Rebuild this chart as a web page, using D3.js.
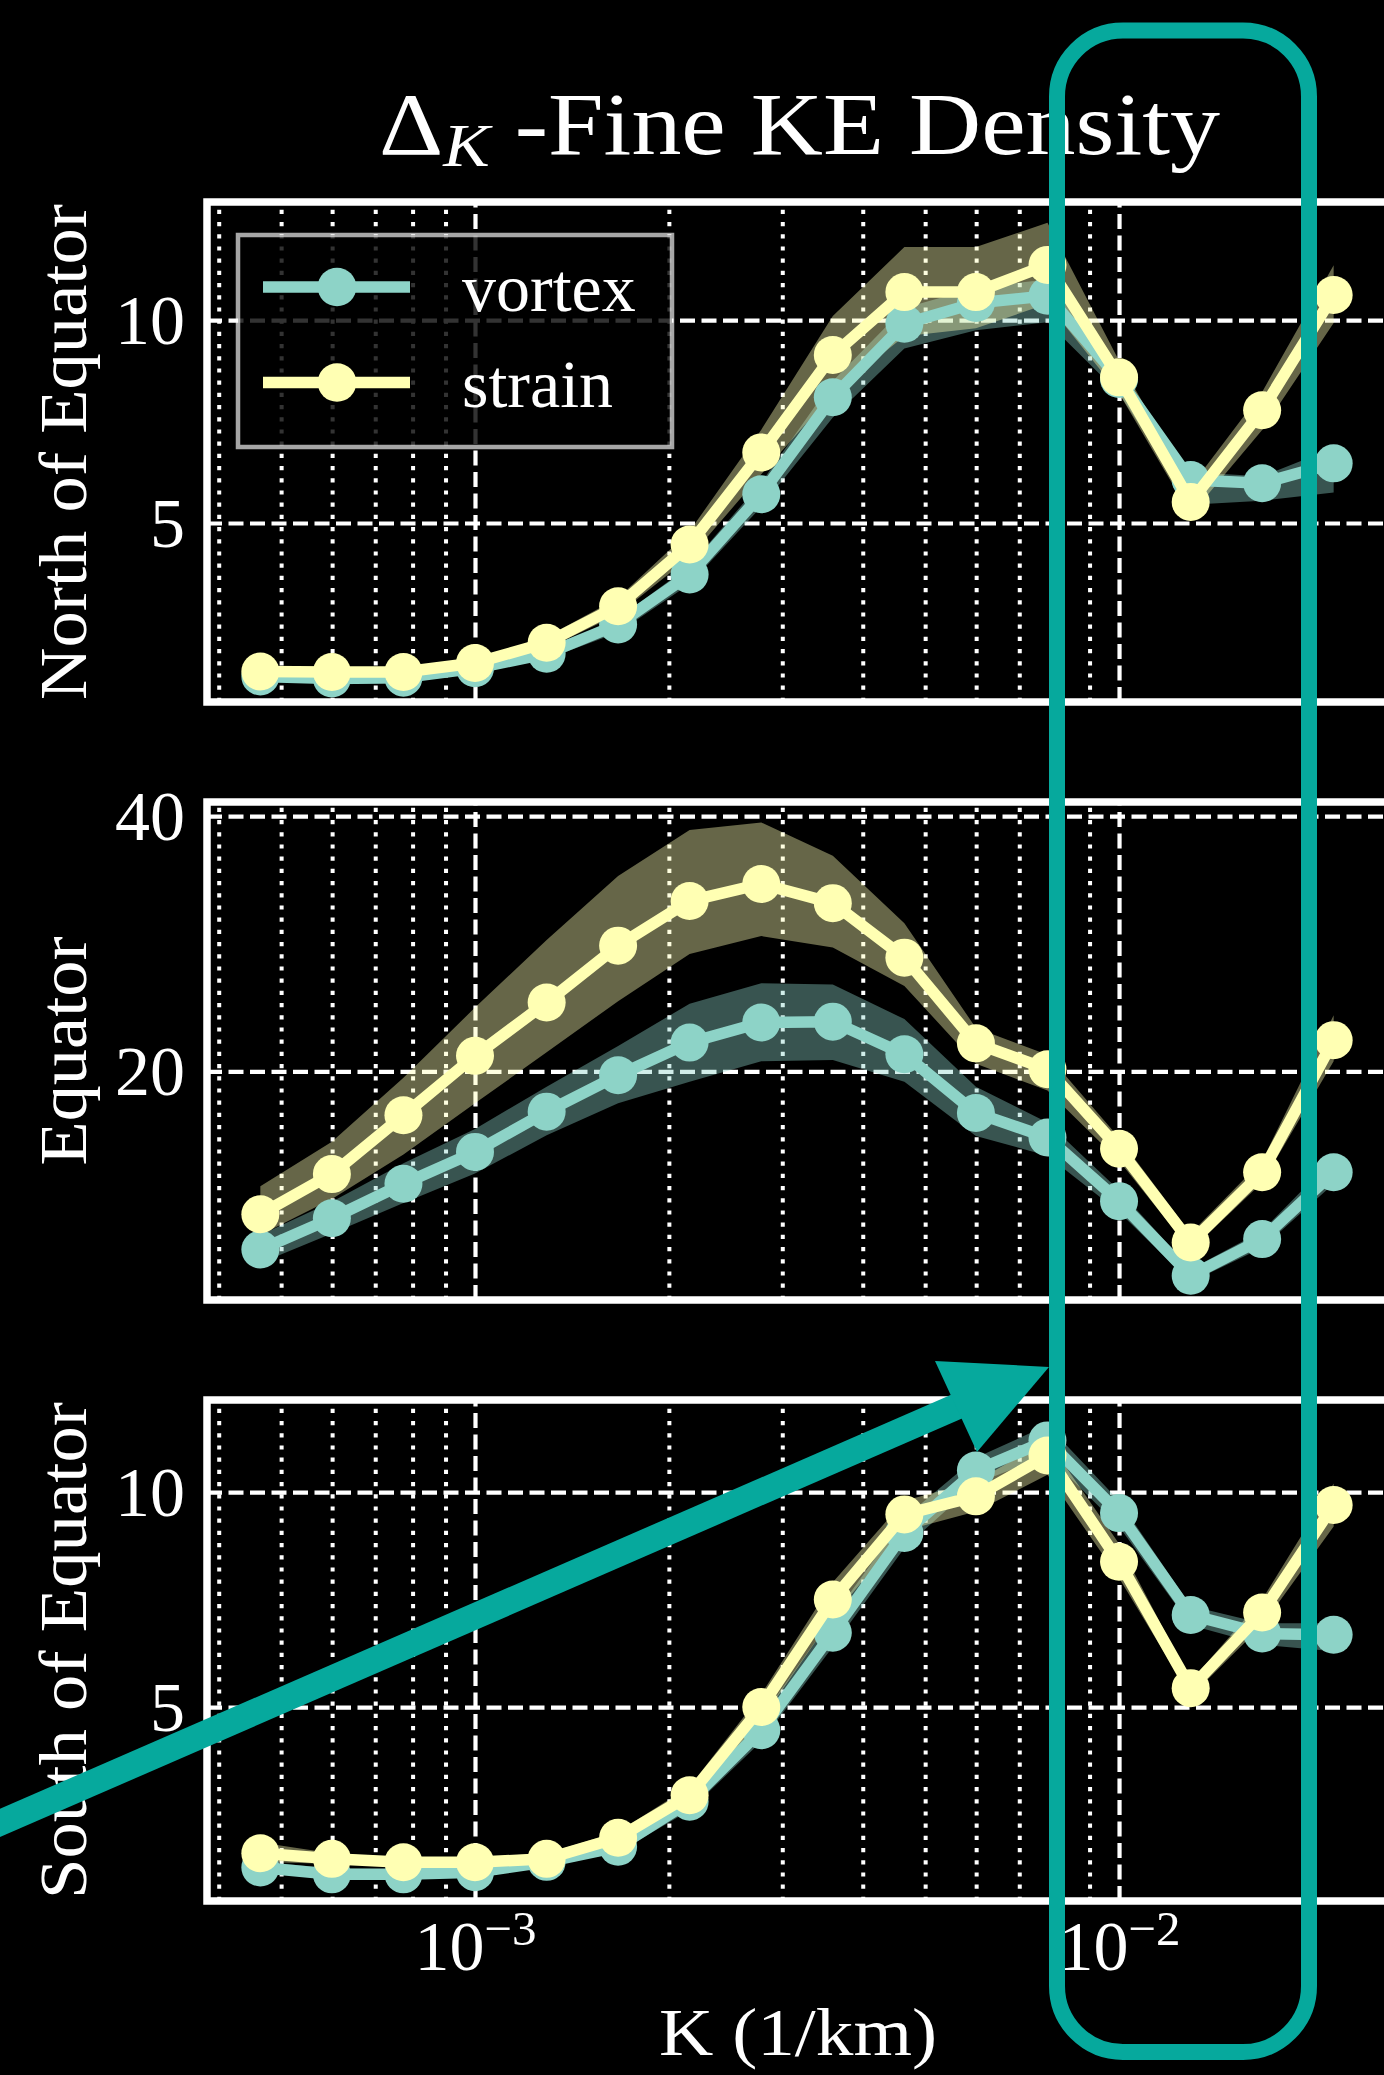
<!DOCTYPE html>
<html><head><meta charset="utf-8">
<script src="https://cdn.jsdelivr.net/npm/d3@7"></script>
<style>html,body{margin:0;padding:0;background:#000;}svg{display:block;}text{white-space:pre;}</style>
</head><body>
<svg id="c" width="1384" height="2075"></svg>
<script>
// ---------------- data ----------------
const K = [4.642e-4, 5.995e-4, 7.743e-4, 1.000e-3, 1.292e-3, 1.668e-3, 2.154e-3, 2.783e-3,
           3.594e-3, 4.642e-3, 5.995e-3, 7.743e-3, 1.000e-2, 1.292e-2, 1.668e-2, 2.154e-2];
const seriesNames = ["vortex", "strain"];
const panelLabels = ["North of Equator", "Equator", "South of Equator"];

const northVortex   = [1.22, 1.17, 1.19, 1.42, 1.78, 2.50, 3.73, 5.71, 8.10, 9.91, 10.42, 10.60, 8.55, 6.06, 5.98, 6.47];
const northVortexLo = [1.12, 1.08, 1.10, 1.32, 1.65, 2.30, 3.50, 5.40, 7.60, 9.30, 9.75, 9.95, 8.20, 5.45, 5.55, 5.75];
const northVortexHi = [1.30, 1.25, 1.27, 1.50, 1.88, 2.65, 3.95, 6.00, 8.50, 10.30, 10.80, 11.00, 8.80, 6.25, 6.15, 6.85];
const northStrain   = [1.34, 1.33, 1.33, 1.55, 2.05, 2.95, 4.47, 6.74, 9.14, 10.69, 10.69, 11.36, 8.59, 5.52, 7.78, 10.62];
const northStrainLo = [1.20, 1.20, 1.20, 1.40, 1.90, 2.75, 4.15, 6.20, 8.20, 9.60, 9.80, 10.40, 8.20, 5.20, 7.29, 9.93];
const northStrainHi = [1.45, 1.45, 1.45, 1.65, 2.20, 3.15, 4.80, 7.30, 10.10, 11.80, 11.80, 12.40, 9.00, 5.90, 8.23, 11.35];

const eqVortex   = [6.05, 8.50, 11.20, 13.70, 16.85, 19.70, 22.26, 23.83, 23.90, 21.35, 16.75, 14.83, 9.84, 4.00, 6.87, 12.10];
const eqVortexLo = [5.00, 7.30, 9.70, 12.00, 15.00, 17.50, 19.20, 20.80, 20.90, 19.20, 14.95, 13.40, 9.00, 3.50, 6.20, 11.20];
const eqVortexHi = [7.20, 9.80, 12.80, 15.50, 18.80, 22.00, 25.30, 26.90, 26.80, 24.10, 18.80, 16.00, 10.70, 4.50, 7.50, 13.20];
const eqStrain   = [8.81, 11.96, 16.57, 21.22, 25.40, 29.85, 33.35, 34.68, 33.18, 28.91, 22.20, 20.17, 13.95, 6.60, 12.10, 22.45];
const eqStrainLo = [7.20, 10.00, 13.50, 17.50, 21.50, 25.50, 29.20, 30.60, 29.70, 26.70, 20.60, 18.50, 13.00, 6.00, 11.30, 20.80];
const eqStrainHi = [11.00, 14.50, 19.50, 25.00, 30.30, 35.30, 38.90, 39.50, 36.90, 31.60, 23.40, 21.30, 14.80, 7.30, 13.00, 24.40];

const southVortex   = [1.27, 1.11, 1.11, 1.16, 1.40, 1.75, 2.80, 4.46, 6.73, 9.05, 10.50, 11.20, 9.51, 7.14, 6.71, 6.68];
const southVortexLo = [1.15, 1.00, 1.00, 1.05, 1.30, 1.62, 2.60, 4.20, 6.40, 8.70, 10.20, 10.85, 9.20, 6.90, 6.45, 6.30];
const southVortexHi = [1.40, 1.25, 1.22, 1.28, 1.52, 1.90, 3.00, 4.75, 7.10, 9.40, 10.80, 11.55, 9.80, 7.35, 6.95, 6.95];
const southStrain   = [1.60, 1.47, 1.39, 1.39, 1.47, 1.96, 2.95, 5.00, 7.50, 9.48, 9.90, 10.85, 8.38, 5.44, 7.20, 9.70];
const southStrainLo = [1.40, 1.35, 1.30, 1.30, 1.38, 1.85, 2.80, 4.70, 7.10, 9.10, 9.55, 10.40, 8.00, 5.25, 6.90, 9.20];
const southStrainHi = [1.85, 1.60, 1.50, 1.50, 1.60, 2.10, 3.15, 5.30, 7.90, 9.80, 10.25, 11.20, 8.80, 5.60, 7.50, 10.20];

const yTicksNorth = [5, 10], yTicksEq = [20, 40], yTicksSouth = [5, 10];
const xMajorTicks = [1e-3, 1e-2];
const xMajorExponents = ["\u22123", "\u22122"];
const xMinorTicks = [4e-4, 5e-4, 6e-4, 7e-4, 8e-4, 9e-4, 2e-3, 3e-3, 4e-3, 5e-3, 6e-3, 7e-3, 8e-3, 9e-3, 2e-2];

// ---------------- layout ----------------
const W = 1384, H = 2075;
const FONT = "'Liberation Serif','Times New Roman',serif";
const colors = {vortex: "#8dd3c7", strain: "#ffffb3"};
const ANN = "#06a99d";
const left = 207, right = 1420;
const x = d3.scaleLog().domain([3.836e-4, 2.933e-2]).range([left, right]);

const panels = [
  {label: panelLabels[0], labelLen: 496, top: 202, bottom: 702, domain: [0.59, 12.91], ticks: yTicksNorth,
   series: [[northVortex, northVortexLo, northVortexHi], [northStrain, northStrainLo, northStrainHi]]},
  {label: panelLabels[1], labelLen: 229, top: 802, bottom: 1300, domain: [2.1, 41.1], ticks: yTicksEq,
   series: [[eqVortex, eqVortexLo, eqVortexHi], [eqStrain, eqStrainLo, eqStrainHi]]},
  {label: panelLabels[2], labelLen: 497, top: 1400, bottom: 1901, domain: [0.49, 12.14], ticks: yTicksSouth,
   series: [[southVortex, southVortexLo, southVortexHi], [southStrain, southStrainLo, southStrainHi]]}
];

const svg = d3.select("#c");
svg.append("rect").attr("width", W).attr("height", H).attr("fill", "#000");

panels.forEach((p, pi) => {
  const y = d3.scaleLinear().domain(p.domain).range([p.bottom, p.top]);
  const g = svg.append("g");
  const h = p.bottom - p.top;

  // minor x grid (dotted)
  g.append("g").attr("transform", `translate(0,${p.bottom})`)
    .call(d3.axisBottom(x).tickValues(xMinorTicks).tickSize(-h).tickFormat(""))
    .call(a => { a.select(".domain").remove();
      a.selectAll("line").attr("stroke", "#fff").attr("stroke-width", 4).attr("stroke-dasharray", "4.2 8"); });
  // major x grid (dashed)
  g.append("g").attr("transform", `translate(0,${p.bottom})`)
    .call(d3.axisBottom(x).tickValues(xMajorTicks).tickSize(-h).tickFormat(""))
    .call(a => { a.select(".domain").remove();
      a.selectAll("line").attr("stroke", "#fff").attr("stroke-width", 4.2).attr("stroke-dasharray", "15 6.5"); });
  // y grid + tick labels
  g.append("g").attr("transform", `translate(${left},0)`)
    .call(d3.axisLeft(y).tickValues(p.ticks).tickSize(-(right - left)).tickPadding(22).tickFormat(d3.format("d")))
    .call(a => { a.select(".domain").remove();
      a.attr("font-family", FONT).attr("font-size", 70);
      a.selectAll("line").attr("stroke", "#fff").attr("stroke-width", 4.2).attr("stroke-dasharray", "15 6.5");
      a.selectAll("text").attr("fill", "#fff").attr("dy", "0.33em"); });

  // bands
  const area = d3.area().x((d, i) => x(K[i])).y0(d => y(d[0])).y1(d => y(d[1]));
  p.series.forEach((s, si) => {
    const pts = s[1].map((lo, i) => [lo, s[2][i]]);
    g.append("path").datum(pts).attr("d", area)
      .attr("fill", colors[seriesNames[si]]).attr("fill-opacity", 0.4);
  });
  // lines + markers
  const line = d3.line().x((d, i) => x(K[i])).y(d => y(d));
  p.series.forEach((s, si) => {
    const c = colors[seriesNames[si]];
    g.append("path").datum(s[0]).attr("d", line).attr("fill", "none")
      .attr("stroke", c).attr("stroke-width", 11.5).attr("stroke-linejoin", "round");
    g.selectAll(null).data(s[0]).enter().append("circle")
      .attr("cx", (d, i) => x(K[i])).attr("cy", d => y(d)).attr("r", 19).attr("fill", c);
  });

  // spines
  g.append("rect").attr("x", left).attr("y", p.top).attr("width", right - left).attr("height", h)
    .attr("fill", "none").attr("stroke", "#fff").attr("stroke-width", 7.5);

  // y label
  const cy = (p.top + p.bottom) / 2;
  g.append("text").attr("transform", `translate(86,${cy}) rotate(-90)`)
    .attr("text-anchor", "middle").attr("font-family", FONT).attr("font-size", 68)
    .attr("textLength", p.labelLen).attr("lengthAdjust", "spacingAndGlyphs")
    .attr("fill", "#fff").text(p.label);

  // legend in the first panel
  if (pi === 0) {
    const lg = g.append("g");
    lg.append("rect").attr("x", 238).attr("y", 235).attr("width", 434).attr("height", 212)
      .attr("fill", "#000").attr("fill-opacity", 0.8)
      .attr("stroke", "#fff").attr("stroke-opacity", 0.65).attr("stroke-width", 4.5);
    seriesNames.forEach((n, i) => {
      const ly = 287 + i * 95.5;
      lg.append("line").attr("x1", 263).attr("x2", 410).attr("y1", ly).attr("y2", ly)
        .attr("stroke", colors[n]).attr("stroke-width", 11.5);
      lg.append("circle").attr("cx", 337).attr("cy", ly).attr("r", 19.3).attr("fill", colors[n]);
      lg.append("text").attr("x", 462).attr("y", ly + 24).attr("font-family", FONT)
        .attr("font-size", 68).attr("fill", "#fff").text(n);
    });
  }

  // x tick labels on bottom panel
  if (pi === panels.length - 1) {
    const xt = g.append("g").attr("transform", `translate(0,${p.bottom})`)
      .call(d3.axisBottom(x).tickValues(xMajorTicks).tickSize(0).tickFormat(""));
    xt.select(".domain").remove();
    xt.selectAll(".tick").each(function (d, i) {
      const t = d3.select(this).append("text").attr("y", 69).attr("text-anchor", "middle")
        .attr("font-family", FONT).attr("font-size", 70).attr("fill", "#fff");
      t.append("tspan").text("10");
      t.append("tspan").attr("font-size", 49).attr("dy", -25).text(xMajorExponents[i]);
    });
    g.append("text").attr("x", 798).attr("y", 2055).attr("text-anchor", "middle")
      .attr("font-family", FONT).attr("font-size", 68).attr("fill", "#fff")
      .attr("textLength", 278).attr("lengthAdjust", "spacingAndGlyphs").text("K (1/km)");
  }
});

// title
const title = svg.append("text").attr("x", 379).attr("y", 154)
  .attr("font-family", FONT).attr("font-size", 89).attr("fill", "#fff");
title.append("tspan").text("\u0394");
title.append("tspan").attr("font-style", "italic").attr("font-size", 62).attr("dy", 12).text("K");
title.append("tspan").attr("dy", -12).text(" -Fine KE Density");
title.attr("textLength", 841).attr("lengthAdjust", "spacingAndGlyphs");

// annotation overlay
svg.append("line").attr("x1", -30).attr("y1", 1836).attr("x2", 958).attr("y2", 1406)
  .attr("stroke", ANN).attr("stroke-width", 26);
svg.append("polygon").attr("points", "935,1361 1049,1367 977,1452").attr("fill", ANN);
svg.append("rect").attr("x", 1057).attr("y", 30.5).attr("width", 252).attr("height", 2021.5)
  .attr("rx", 66).attr("ry", 66).attr("fill", "none").attr("stroke", ANN).attr("stroke-width", 16);
</script>
</body></html>
